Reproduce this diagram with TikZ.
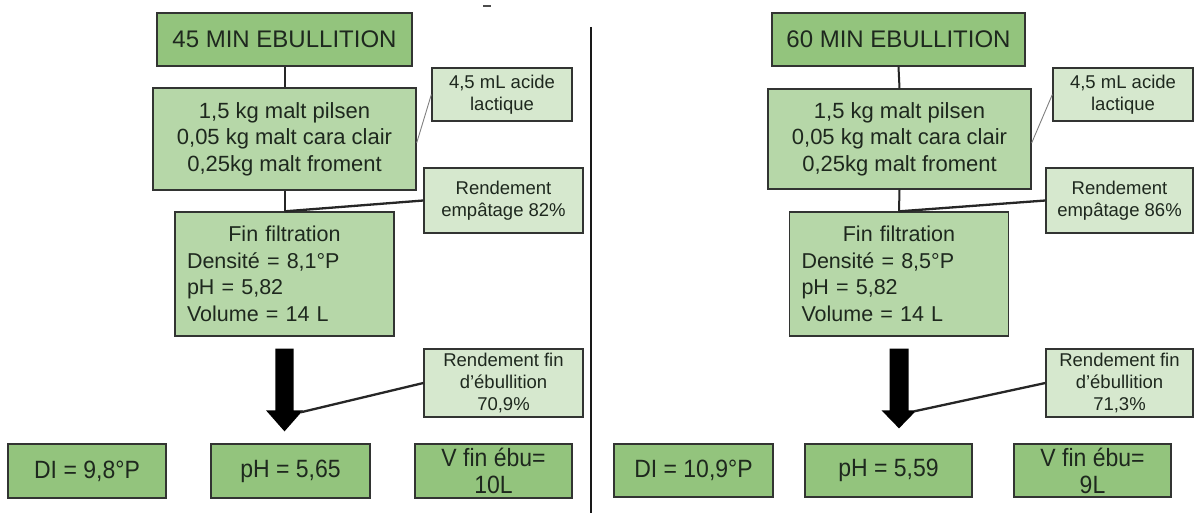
\documentclass[tikz,border=0pt]{standalone}
\usepackage{fontspec}
\setmainfont{Liberation Sans}
\newfontfamily\narrowsans[FakeStretch=0.92]{Liberation Sans}
\usetikzlibrary{calc}
\definecolor{darkg}{RGB}{147,196,125}
\definecolor{midg}{RGB}{182,215,168}
\definecolor{lightg}{RGB}{214,232,206}
\definecolor{bordc}{RGB}{50,52,50}
\definecolor{txtc}{RGB}{30,40,30}
\begin{document}
\begin{tikzpicture}[x=1pt,y=-1pt,
  box/.style={draw=bordc,line width=1.3pt,inner sep=0pt,text=txtc,align=center},
  titlebox/.style={box,fill=darkg,font=\fontsize{24}{28}\selectfont},
  mainbox/.style={box,fill=midg,font=\fontsize{22}{26.5}\selectfont},
  filtbox/.style={box,fill=midg,align=left,text width=195pt,inner xsep=12pt,font=\fontsize{21.5}{26.5}\selectfont},
  notebox/.style={box,fill=lightg,font=\fontsize{18.5}{22}\selectfont},
  resbox/.style={box,fill=darkg,font=\narrowsans\fontsize{25}{27}\selectfont},
  link/.style={line width=2pt,draw=black!85},
  slantlink/.style={line width=2.3pt,draw=black!85},
  thinlink/.style={line width=0.9pt,draw=black!50},
  fat/.style={fill=black}]
\useasboundingbox (0,0) rectangle (1194,513);
\fill[white] (0,0) rectangle (1194,513);

% ---------- left panel ----------
\node[titlebox,minimum width=255pt,minimum height=53pt] (t1) at (284.5,39.5) {45 MIN EBULLITION};
\node[mainbox,minimum width=263pt,minimum height=102pt] (m1) at (284.5,139) {1,5 kg malt pilsen\\0,05 kg malt cara clair\\0,25kg malt froment};
\node[notebox,minimum width=140pt,minimum height=53pt] (a1) at (502,94.5) {4,5 mL acide\\lactique};
\node[notebox,minimum width=159pt,minimum height=65pt] (r1) at (503.5,200.5) {Rendement\\empâtage 82\%};
\node[filtbox,minimum height=124pt] (f1) at (284.5,274) {\makebox[\linewidth][c]{Fin filtration}\\Densité = 8,1°P\\pH = 5,82\\Volume = 14 L};
\node[notebox,minimum width=159pt,minimum height=68pt] (e1) at (503.5,383) {Rendement fin\\d’ébullition\\70,9\%};
\node[resbox,minimum width=158pt,minimum height=54pt] (d1) at (87,471) {DI = 9,8°P};
\node[resbox,minimum width=159pt,minimum height=54pt] (p1) at (290.5,471) {pH = 5,65};
\node[resbox,minimum width=157pt,minimum height=54pt] (v1) at (493.5,471) {V fin ébu=\\10L};

\draw[link] (t1.south) -- (m1.north);
\draw[link] (m1.south) -- (f1.north);
\draw[slantlink] (r1.west) -- (f1.north);
\draw[thinlink] (a1.west) -- ([yshift=-4pt]m1.east);
\coordinate (s1) at ($(f1.south)+(0,12)$);
\coordinate (k1) at ($(f1.south |- p1.north)+(0,-12)$);
\fill[fat] ($(s1)+(-9.2,0)$) -- ($(s1)+(9.2,0)$) -- ($(k1)+(9.2,-21)$) -- ($(k1)+(18.5,-21)$) -- (k1) -- ($(k1)+(-18.5,-21)$) -- ($(k1)+(-9.2,-21)$) -- cycle;
\coordinate (h1) at ($(k1)+(16,-19)$);
\draw[slantlink] (e1.west) -- (h1);

% ---------- divider and stray mark ----------
\coordinate (dtop) at (591,27);
\coordinate (dbot) at (591,513);
\draw[line width=2.2pt,black!90] (dtop) -- (dbot);
\coordinate (mk) at (483,6);
\draw[line width=1.6pt,black!70] (mk) -- ++(8,0);

% ---------- right panel ----------
\node[titlebox,minimum width=253pt,minimum height=53pt] (t2) at (898.5,39.5) {60 MIN EBULLITION};
\node[mainbox,minimum width=263pt,minimum height=100pt] (m2) at (899.5,139) {1,5 kg malt pilsen\\0,05 kg malt cara clair\\0,25kg malt froment};
\node[notebox,minimum width=140pt,minimum height=53pt] (a2) at (1123,94.5) {4,5 mL acide\\lactique};
\node[notebox,minimum width=147pt,minimum height=65pt] (r2) at (1119.5,200.5) {Rendement\\empâtage 86\%};
\node[filtbox,minimum height=124pt] (f2) at (899,274) {\makebox[\linewidth][c]{Fin filtration}\\Densité = 8,5°P\\pH = 5,82\\Volume = 14 L};
\node[notebox,minimum width=147pt,minimum height=68pt] (e2) at (1119.5,383) {Rendement fin\\d’ébullition\\71,3\%};
\node[resbox,minimum width=159pt,minimum height=53pt] (d2) at (693.5,470.5) {DI = 10,9°P};
\node[resbox,minimum width=167pt,minimum height=53pt] (p2) at (888.5,470.5) {pH = 5,59};
\node[resbox,minimum width=157pt,minimum height=53pt] (v2) at (1092.5,470.5) {V fin ébu=\\9L};

\draw[link] (t2.south) -- (m2.north);
\draw[link] (m2.south) -- (f2.north);
\draw[slantlink] (r2.west) -- (f2.north);
\draw[thinlink] (a2.west) -- ([yshift=-4pt]m2.east);
\coordinate (s2) at ($(f2.south)+(0,12)$);
\coordinate (k2) at ($(f2.south |- p2.north)+(0,-15)$);
\fill[fat] ($(s2)+(-9.5,0)$) -- ($(s2)+(9.5,0)$) -- ($(k2)+(9.5,-18)$) -- ($(k2)+(17.5,-18)$) -- (k2) -- ($(k2)+(-17.5,-18)$) -- ($(k2)+(-9.5,-18)$) -- cycle;
\coordinate (h2) at ($(k2)+(15,-17)$);
\draw[slantlink] (e2.west) -- (h2);
\end{tikzpicture}
\end{document}
